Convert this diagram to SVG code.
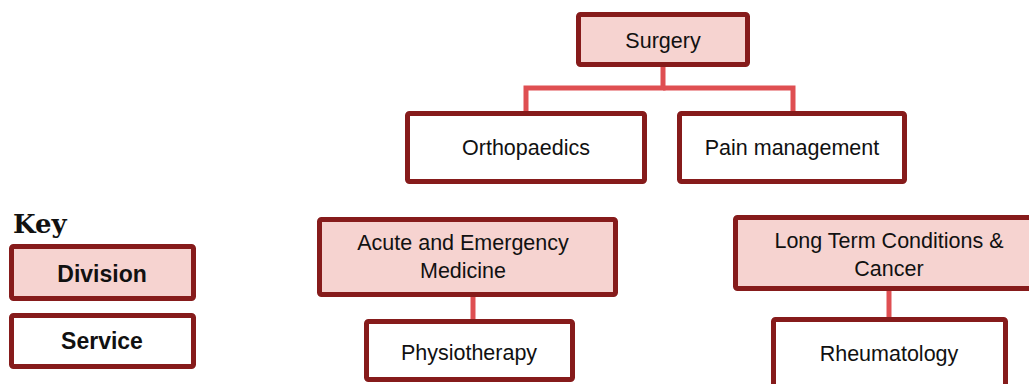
<svg xmlns="http://www.w3.org/2000/svg" width="1029" height="384" viewBox="0 0 1029 384">
<style>
.div{fill:#f6d3d0;stroke:#861b1b;stroke-width:5}
.svc{fill:#ffffff;stroke:#861b1b;stroke-width:5}
.t{font-family:"Liberation Sans",Arial,sans-serif;font-size:21.5px;fill:#111;text-anchor:middle}
.kt{font-family:"Liberation Sans",Arial,sans-serif;font-size:23px;font-weight:bold;fill:#111;text-anchor:middle}
.conn{fill:none;stroke:#df4f52;stroke-width:5}
</style>
<rect width="1029" height="384" fill="#ffffff"/>
<g id="connectors">
<path class="conn" d="M663 67 V88 H526 V111"/>
<path class="conn" d="M663 88 H793 V111"/>
<path class="conn" d="M473 297 V319"/>
<path class="conn" d="M889 291 V317"/>
</g>
<g id="key">
<text x="13" y="233" font-family="'DejaVu Serif',serif" font-weight="bold" font-size="26" fill="#111">Key</text>
</g>
<g id="key-division">
<rect class="div" x="11.5" y="246.5" width="182" height="52" rx="2"/>
<text class="kt" x="102" y="282">Division</text>
</g>
<g id="key-service">
<rect class="svc" x="11.5" y="315.5" width="182" height="51" rx="2"/>
<text class="kt" x="102" y="349">Service</text>
</g>
<g id="surgery">
<rect class="div" x="578.5" y="14.5" width="169" height="50" rx="2"/>
<text class="t" x="663" y="48">Surgery</text>
</g>
<g id="orthopaedics">
<rect class="svc" x="407.5" y="113.5" width="237" height="68" rx="2"/>
<text class="t" x="526" y="155">Orthopaedics</text>
</g>
<g id="pain-management">
<rect class="svc" x="679.5" y="113.5" width="225" height="68" rx="2"/>
<text class="t" x="792" y="155">Pain management</text>
</g>
<g id="acute">
<rect class="div" x="319.5" y="219.5" width="296" height="75" rx="2"/>
<text class="t" x="463" y="250">Acute and Emergency</text>
<text class="t" x="463" y="278">Medicine</text>
</g>
<g id="physiotherapy">
<rect class="svc" x="366.5" y="321.5" width="206" height="58" rx="2"/>
<text class="t" x="469" y="360">Physiotherapy</text>
</g>
<g id="long-term">
<rect class="div" x="735.5" y="217.5" width="300" height="71" rx="2"/>
<text class="t" x="889" y="248">Long Term Conditions &amp;</text>
<text class="t" x="889" y="276">Cancer</text>
</g>
<g id="rheumatology">
<rect class="svc" x="773.5" y="319.5" width="232" height="70" rx="2"/>
<text class="t" x="889" y="361">Rheumatology</text>
</g>
</svg>
